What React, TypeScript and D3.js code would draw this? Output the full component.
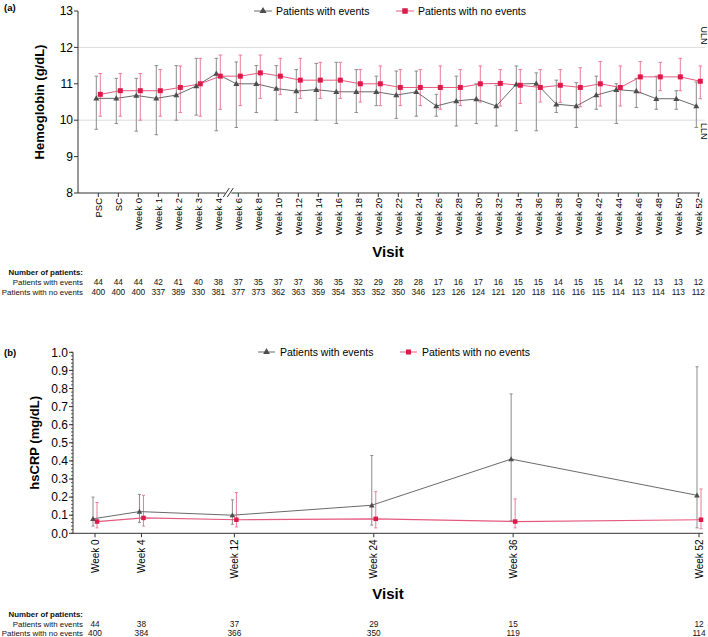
import React from 'react';
import * as d3 from 'd3';

// ---------- Panel (a): Hemoglobin ----------
const hbVisits = ['PSC','SC','Week 0','Week 1','Week 2','Week 3','Week 4','Week 6','Week 8','Week 10','Week 12','Week 14','Week 16','Week 18','Week 20','Week 22','Week 24','Week 26','Week 28','Week 30','Week 32','Week 34','Week 36','Week 38','Week 40','Week 42','Week 44','Week 46','Week 48','Week 50','Week 52'];
const hbEventsMean = [10.6,10.6,10.68,10.6,10.69,10.94,11.28,11.0,11.0,10.87,10.8,10.84,10.78,10.78,10.78,10.69,10.78,10.39,10.53,10.58,10.39,10.99,11.01,10.44,10.39,10.69,10.84,10.8,10.59,10.59,10.39];
const hbEventsUpper = [11.21,11.15,11.15,11.5,11.5,11.7,11.7,11.6,11.5,11.5,11.39,11.56,11.59,11.39,11.21,11.35,11.35,10.71,11.21,11.0,10.96,11.49,11.3,11.1,11.03,11.21,11.0,11.15,11.21,10.81,11.05];
const hbEventsLower = [9.75,9.91,9.7,9.6,10.0,10.14,9.71,9.8,10.21,10.0,10.21,10.0,9.91,10.21,10.4,10.05,10.11,10.11,9.84,9.91,9.84,9.71,9.71,10.21,9.8,10.3,9.91,10.35,10.3,10.3,9.8];
const hbNoEventsMean = [10.71,10.81,10.81,10.81,10.9,11.0,11.21,11.21,11.3,11.21,11.1,11.1,11.1,11.0,11.0,10.9,10.9,10.9,10.9,11.0,11.01,10.96,10.9,10.96,10.9,11.0,10.9,11.19,11.19,11.19,11.07];
const hbNoEventsUpper = [11.28,11.28,11.28,11.39,11.49,11.7,11.79,11.79,11.79,11.7,11.7,11.59,11.59,11.39,11.49,11.39,11.39,11.49,11.39,11.49,11.39,11.39,11.39,11.39,11.44,11.61,11.49,11.61,11.59,11.7,11.49];
const hbNoEventsLower = [10.11,10.11,10.0,10.11,10.21,10.11,10.3,10.4,10.6,10.71,10.6,10.6,10.6,10.5,10.4,10.4,10.4,10.3,10.4,10.5,10.39,10.46,10.5,10.49,10.37,10.39,10.39,10.75,10.81,10.81,10.59];
const hbNEvents = [44,44,44,42,41,40,38,37,35,37,37,36,35,32,29,28,28,17,16,17,16,15,15,14,15,15,14,12,13,13,12];
const hbNNoEvents = [400,400,400,337,389,330,381,377,373,362,363,359,354,353,352,350,346,123,126,124,121,120,118,116,116,115,114,113,114,113,112];
const hbTicks = [8,9,10,11,12,13];
const hbRefLines = [{ v: 12, label: 'ULN' }, { v: 10, label: 'LLN' }];

// ---------- Panel (b): hsCRP ----------
const crpWeeks = [0,4,12,24,36,52];
const crpLabels = ['Week 0','Week 4','Week 12','Week 24','Week 36','Week 52'];
const crpEventsMean = [0.08,0.12,0.10,0.155,0.41,0.21];
const crpEventsUpper = [0.20,0.215,0.185,0.43,0.77,0.92];
const crpEventsLower = [0.04,0.06,0.05,0.045,0.07,0.03];
const crpNoEventsMean = [0.065,0.085,0.075,0.08,0.065,0.075];
const crpNoEventsUpper = [0.17,0.21,0.225,0.23,0.19,0.245];
const crpNoEventsLower = [0.03,0.04,0.035,0.03,0.03,0.025];
const crpNEvents = [44,38,37,29,15,12];
const crpNNoEvents = [400,384,366,350,119,114];
const crpTicks = [0,0.1,0.2,0.3,0.4,0.5,0.6,0.7,0.8,0.9,1.0];

const GRAY = '#4d4d4d';
const GRAY_LINE = '#6a6a6a';
const GRAY_ERR = '#8c8c8c';
const RED = '#dc1a4a';
const RED_LINE = '#e45a7d';
const RED_ERR = '#ea7d98';
const FONT = 'Liberation Sans, Arial, Helvetica, sans-serif';

function Tri({ x, y, s, fill }: { x: number; y: number; s: number; fill: string }) {
  const p = d3.symbol().type(d3.symbolTriangle).size(s)();
  return <path d={p || ''} transform={`translate(${x},${y})`} fill={fill} />;
}
function Sq({ x, y, s, fill }: { x: number; y: number; s: number; fill: string }) {
  return <rect x={x - s / 2} y={y - s / 2} width={s} height={s} fill={fill} />;
}

function ErrBar({ x, y1, y2, color, cap }: { x: number; y1: number; y2: number; color: string; cap: number }) {
  return (
    <g stroke={color} strokeWidth={1}>
      <line x1={x} x2={x} y1={y1} y2={y2} />
      <line x1={x - cap} x2={x + cap} y1={y1} y2={y1} />
      <line x1={x - cap} x2={x + cap} y1={y2} y2={y2} />
    </g>
  );
}

function PanelA() {
  const left = 78, right = 700, top = 11, bottom = 193;
  const x = d3.scalePoint<string>().domain(hbVisits).range([98.3, 698.3]);
  const y = d3.scaleLinear().domain([8, 13]).range([bottom, top]);
  const off = 2;
  const lineE = d3.line<number>().x((_, i) => x(hbVisits[i])! - off).y((d) => y(d));
  const lineN = d3.line<number>().x((_, i) => x(hbVisits[i])! + off).y((d) => y(d));
  const breakX = (x('Week 4')! + x('Week 6')!) / 2;
  return (
    <g fontFamily={FONT}>
      <text x={4} y={11} fontSize={9.5} fontWeight="bold">(a)</text>
      {/* legend */}
      <g fontSize={10.5}>
        <line x1={254} x2={272} y1={11} y2={11} stroke={GRAY_LINE} strokeWidth={1} />
        <Tri x={263} y={11} s={22} fill={GRAY} />
        <text x={276} y={14.5}>Patients with events</text>
        <line x1={396} x2={414} y1={11} y2={11} stroke={RED_LINE} strokeWidth={1} />
        <Sq x={405} y={11} s={5.5} fill={RED} />
        <text x={418} y={14.5}>Patients with no events</text>
      </g>
      {/* ref lines */}
      {hbRefLines.map((r) => (
        <g key={r.label}>
          <line x1={left} x2={705} y1={y(r.v)} y2={y(r.v)} stroke="#dcdcdc" strokeWidth={1} />
          <text transform={`translate(702,${r.v === 12 ? y(r.v) - 12 : y(r.v) + 11}) rotate(90)`} fontSize={9} textAnchor="middle" dy="0.1em">{r.label}</text>
        </g>
      ))}
      {/* y axis */}
      <line x1={left} x2={left} y1={top} y2={bottom} stroke="#333" />
      {hbTicks.map((t) => (
        <g key={t}>
          <line x1={left - 4} x2={left} y1={y(t)} y2={y(t)} stroke="#333" />
          <text x={left - 5} y={y(t)} dy="0.35em" textAnchor="end" fontSize={12}>{t}</text>
        </g>
      ))}
      <text transform={`translate(44,${(top + bottom) / 2}) rotate(-90)`} textAnchor="middle" fontSize={13} fontWeight="bold">Hemoglobin (g/dL)</text>
      {/* x axis */}
      <line x1={left} x2={right} y1={bottom} y2={bottom} stroke="#333" />
      {hbVisits.map((v) => (
        <g key={v}>
          <line x1={x(v)} x2={x(v)} y1={bottom} y2={bottom + 4} stroke="#333" />
          <text transform={`translate(${x(v)! + 3.5},${bottom + 5}) rotate(-90)`} textAnchor="end" fontSize={9.5}>{v}</text>
        </g>
      ))}
      {/* axis break */}
      <rect x={breakX - 3} y={bottom - 2} width={6} height={4} fill="white" />
      <line x1={breakX - 5} x2={breakX + 1} y1={bottom + 4} y2={bottom - 5} stroke="#333" />
      <line x1={breakX - 1} x2={breakX + 5} y1={bottom + 4} y2={bottom - 5} stroke="#333" />
      <text x={388} y={257} textAnchor="middle" fontSize={15} fontWeight="bold">Visit</text>
      {/* error bars */}
      {hbVisits.map((v, i) => (
        <g key={'e' + v}>
          <ErrBar x={x(v)! - off} y1={y(hbEventsUpper[i])} y2={y(hbEventsLower[i])} color={GRAY_ERR} cap={1.8} />
          <ErrBar x={x(v)! + off} y1={y(hbNoEventsUpper[i])} y2={y(hbNoEventsLower[i])} color={RED_ERR} cap={1.8} />
        </g>
      ))}
      <path d={lineE(hbEventsMean) || ''} fill="none" stroke={GRAY_LINE} strokeWidth={1} />
      <path d={lineN(hbNoEventsMean) || ''} fill="none" stroke={RED_LINE} strokeWidth={1} />
      {hbVisits.map((v, i) => (
        <g key={'m' + v}>
          <Tri x={x(v)! - off} y={y(hbEventsMean[i]) + 0.5} s={16} fill={GRAY} />
          <Sq x={x(v)! + off} y={y(hbNoEventsMean[i])} s={5} fill={RED} />
        </g>
      ))}
      {/* table */}
      <g fontSize={8.3} fill="#111">
        <text x={83} y={275} textAnchor="end" fontWeight="bold" fontSize={7.9}>Number of patients:</text>
        <text x={83} y={285} textAnchor="end" fontSize={7.9}>Patients with events</text>
        <text x={83} y={295} textAnchor="end" fontSize={7.9}>Patients with no events</text>
        {hbVisits.map((v, i) => (
          <g key={'n' + v}>
            <text x={x(v)} y={285} textAnchor="middle">{hbNEvents[i]}</text>
            <text x={x(v)} y={295} textAnchor="middle">{hbNNoEvents[i]}</text>
          </g>
        ))}
      </g>
    </g>
  );
}

function PanelB() {
  const left = 73, right = 703, top = 352.3, bottom = 533.3;
  const x = d3.scaleLinear().domain([0, 52]).range([95, 699]);
  const y = d3.scaleLinear().domain([0, 1]).range([bottom, top]);
  const off = 2;
  const lineE = d3.line<number>().x((_, i) => x(crpWeeks[i]) - off).y((d) => y(d));
  const lineN = d3.line<number>().x((_, i) => x(crpWeeks[i]) + off).y((d) => y(d));
  const minor = d3.range(0, 1.0001, 0.02);
  return (
    <g fontFamily={FONT}>
      <text x={4} y={356} fontSize={9.5} fontWeight="bold">(b)</text>
      <g fontSize={10.5}>
        <line x1={258} x2={275} y1={352} y2={352} stroke={GRAY_LINE} strokeWidth={1} />
        <Tri x={266.5} y={352} s={20} fill={GRAY} />
        <text x={280} y={355.5}>Patients with events</text>
        <line x1={400} x2={417} y1={352} y2={352} stroke={RED_LINE} strokeWidth={1} />
        <Sq x={408.5} y={352} s={5} fill={RED} />
        <text x={422} y={355.5}>Patients with no events</text>
      </g>
      <line x1={left} x2={left} y1={top} y2={bottom} stroke="#333" />
      {minor.map((t, i) => (
        <line key={'mn' + i} x1={left - 2} x2={left} y1={y(t)} y2={y(t)} stroke="#333" strokeWidth={0.8} />
      ))}
      {crpTicks.map((t) => (
        <g key={t}>
          <line x1={left - 4} x2={left} y1={y(t)} y2={y(t)} stroke="#333" />
          <text x={left - 5} y={y(t)} dy="0.35em" textAnchor="end" fontSize={12}>{d3.format('.1f')(t)}</text>
        </g>
      ))}
      <text transform={`translate(39,${(top + bottom) / 2}) rotate(-90)`} textAnchor="middle" fontSize={13} fontWeight="bold">hsCRP (mg/dL)</text>
      <line x1={left} x2={right} y1={bottom} y2={bottom} stroke="#333" />
      {crpWeeks.map((w, i) => (
        <g key={w}>
          <line x1={x(w)} x2={x(w)} y1={bottom} y2={bottom + 4} stroke="#333" />
          <text transform={`translate(${x(w) + 3.5},${bottom + 6}) rotate(-90)`} textAnchor="end" fontSize={10}>{crpLabels[i]}</text>
        </g>
      ))}
      <text x={388} y={599} textAnchor="middle" fontSize={15} fontWeight="bold">Visit</text>
      {crpWeeks.map((w, i) => (
        <g key={'e' + w}>
          <ErrBar x={x(w) - off} y1={y(crpEventsUpper[i])} y2={y(crpEventsLower[i])} color={GRAY_ERR} cap={1.5} />
          <ErrBar x={x(w) + off} y1={y(crpNoEventsUpper[i])} y2={y(crpNoEventsLower[i])} color={RED_ERR} cap={1.5} />
        </g>
      ))}
      <path d={lineE(crpEventsMean) || ''} fill="none" stroke={GRAY_LINE} strokeWidth={1} />
      <path d={lineN(crpNoEventsMean) || ''} fill="none" stroke={RED_LINE} strokeWidth={1.2} />
      {crpWeeks.map((w, i) => (
        <g key={'m' + w}>
          <Tri x={x(w) - off} y={y(crpEventsMean[i]) + 0.5} s={14} fill={GRAY} />
          <Sq x={x(w) + off} y={y(crpNoEventsMean[i])} s={4.5} fill={RED} />
        </g>
      ))}
      <g fontSize={8.3} fill="#111">
        <text x={83} y={617} textAnchor="end" fontWeight="bold" fontSize={7.9}>Number of patients:</text>
        <text x={83} y={627} textAnchor="end" fontSize={7.9}>Patients with events</text>
        <text x={83} y={635.5} textAnchor="end" fontSize={7.9}>Patients with no events</text>
        {crpWeeks.map((w, i) => (
          <g key={'n' + w}>
            <text x={x(w)} y={627} textAnchor="middle">{crpNEvents[i]}</text>
            <text x={x(w)} y={635.5} textAnchor="middle">{crpNNoEvents[i]}</text>
          </g>
        ))}
      </g>
    </g>
  );
}

export default function App() {
  return (
    <svg width={708} height={637} style={{ position: 'absolute', left: 0, top: 0, background: 'white' }}>
      <rect width={708} height={637} fill="white" />
      <PanelA />
      <PanelB />
    </svg>
  );
}
